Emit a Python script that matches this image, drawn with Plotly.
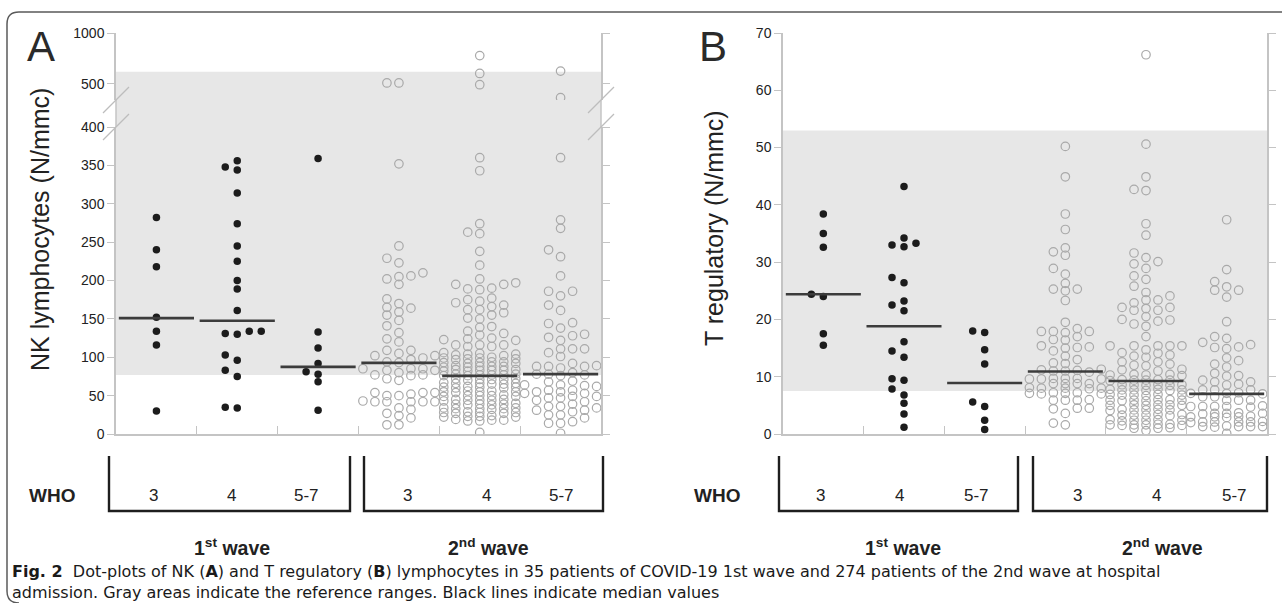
import math
import plotly.graph_objects as go

# ---------------- data ----------------
groups = ["3", "4", "5-7", "3", "4", "5-7"]
waves = ["1<sup>st</sup> wave", "2<sup>nd</sup> wave"]

# Panel A: NK lymphocytes (N/mmc)
nk_w1_who3 = [282, 240, 218, 152, 134, 116, 30]
nk_w1_who4 = [356, 344, 348, 314, 274, 245, 225, 200, 189, 161, 134, 130, 131, 134,
              103, 96, 83, 75, 35, 34]
nk_w1_who57 = [359, 133, 112, 92, 81, 78, 68, 31]
nk_w2_who3 = [505, 505, 352, 245, 229, 223, 210, 205, 202, 206, 195, 170, 164, 176, 155,
              159, 165, 148, 141, 132, 124, 120, 102, 97, 109, 105, 109, 102, 94, 99, 93,
              80, 85, 85, 83, 85, 83, 70, 76, 77, 77, 72, 43, 50, 42, 54, 42, 54, 42, 54,
              42, 50, 42, 52, 24, 34, 32, 21, 27, 12, 12]
nk_w2_who4 = [734, 575, 493, 360, 343, 274, 263, 261, 238, 220, 202, 197, 195, 195, 190,
              189, 188, 177, 175, 173, 171, 168, 166, 162, 162, 158, 155, 151, 150, 140,
              139, 134, 131, 129, 125, 124, 123, 122, 116, 116, 116, 114, 114, 102,
              104, 105, 103, 104, 106,
              99, 98, 100, 99, 97, 98,
              93, 94, 92, 93, 92, 94,
              88, 87, 89, 88, 88, 87,
              83, 82, 84, 83, 82, 83, 84,
              77, 76, 78, 77, 76, 77, 78,
              71, 72, 70, 71, 72, 71,
              66, 65, 67, 66, 66, 65,
              61, 60, 62, 61, 60, 61,
              55, 56, 54, 55, 56, 55,
              50, 49, 51, 50, 49, 50,
              44, 45, 43, 44, 45, 44,
              39, 38, 40, 39, 38, 39,
              33, 34, 32, 33, 34, 33,
              28, 27, 29, 28, 27, 28,
              23, 22, 24, 23, 22,
              18, 17, 19, 18, 17,
              2]
nk_w2_who57 = [594, 413, 360, 279, 268, 240, 231, 206, 186, 186, 180, 168, 161, 145, 144,
               138, 130, 128, 126, 122, 111, 111, 111, 106, 101, 92, 89, 88, 88, 88, 86,
               80, 78, 77, 76, 78, 69, 68, 64, 64, 63, 62, 57, 57, 55, 55, 53, 53, 49, 49,
               47, 47, 44, 42, 39, 36, 36, 34, 31, 31, 29, 25, 25, 21, 16, 14, 14, 1]
nk_medians = [151, 147.5, 87.5, 92.7, 75.7, 78]
nk_reference_range = [77, 588]
nk_ticks_low = [0, 50, 100, 150, 200, 250, 300, 350, 400]
nk_ticks_high = [500, 1000]

# Panel B: T regulatory (N/mmc)
treg_w1_who3 = [38.4, 35.0, 32.6, 24.0, 24.4, 17.5, 15.5]
treg_w1_who4 = [43.2, 34.2, 33.0, 32.7, 33.3, 26.4, 27.3, 23.2, 21.5, 22.5, 16.1, 14.5,
                13.4, 9.4, 9.65, 7.85, 6.8, 5.35, 3.5, 1.2]
treg_w1_who57 = [18.0, 17.7, 14.7, 12.2, 5.6, 4.8, 2.4, 0.8]
treg_w2_who3 = [50.2, 44.9, 38.4, 35.7, 32.5, 31.8, 31.2, 28.9, 27.9, 26.3, 25.3, 25.3,
                25.0, 23.3, 19.5, 18.4, 17.9, 17.9, 17.9, 17.7, 17.0, 16.5, 16.4, 15.2,
                15.4, 15.1, 15.0, 14.5, 13.6, 13.0, 12.4, 12.3,
                11.2, 11.0, 11.0, 10.8, 11.1, 11.3,
                9.6, 9.7, 9.6, 9.7, 9.6, 9.7,
                8.8, 8.8, 8.8, 8.8,
                8.0, 8.0, 8.0, 8.1, 7.9,
                7.1, 7.2, 7.0, 7.1, 7.2, 7.0,
                5.9, 5.9, 6.0, 5.9,
                4.5, 4.4, 4.5,
                3.6,
                1.9, 1.6]
treg_w2_who4 = [66.2, 50.6, 44.9, 42.5, 42.7, 36.7, 34.7, 31.6, 30.8, 29.7, 30.1, 28.9,
                27.6, 27.0, 25.8, 24.1, 24.7, 22.9, 22.1, 21.6, 21.6, 23.4, 23.4, 21.9,
                22.1, 19.9, 19.7, 18.8, 19.2, 20.0, 20.5, 17.0, 15.4, 15.4, 15.4, 15.4,
                15.4, 14.2, 14.1, 13.6, 14.7, 13.4, 13.8, 12.6, 12.6, 12.0, 12.2, 11.9,
                11.2, 11.0, 11.3,
                10.3, 10.4, 10.2, 10.3, 10.4,
                9.4, 9.5, 9.3, 9.4, 9.5, 9.4,
                8.55, 8.6, 8.5, 8.6, 8.5, 8.6,
                7.7, 7.8, 7.6, 7.7, 7.8, 7.7, 7.6,
                6.8, 6.9, 6.7, 6.8, 6.9, 6.8,
                5.9, 6.0, 5.8, 5.9, 6.0, 5.9, 5.8,
                5.1, 5.0, 5.1, 5.0, 5.1, 5.0,
                4.2, 4.3, 4.1, 4.2, 4.3, 4.2,
                3.3, 3.4, 3.2, 3.3, 3.4, 3.3,
                2.4, 2.5, 2.3, 2.4, 2.5, 2.4,
                1.6, 1.7, 1.5, 1.6, 1.7, 1.6, 1.5,
                1.0, 1.0, 1.1,
                0.6]
treg_w2_who57 = [37.4, 28.7, 26.6, 25.1, 23.9, 25.1, 25.7, 19.6, 15.6, 17.0, 15.1, 16.7,
                 14.9, 15.2, 16.0, 12.8, 11.7, 13.3, 12.2, 10.2, 9.1, 10.6, 8.7, 9.1, 9.4,
                 10.1, 8.55,
                 7.7, 7.7, 7.7,
                 7.1, 7.1, 7.2, 7.0,
                 6.5, 6.5,
                 5.9, 5.9, 5.9,
                 4.8, 4.8, 4.9, 4.8, 4.7, 4.8,
                 3.6, 3.6, 3.7, 3.6, 3.5,
                 3.0, 3.0, 3.1, 3.0, 2.9,
                 2.1, 2.1, 2.2, 2.1, 2.0, 2.1,
                 1.3, 1.3, 1.4, 1.3, 1.2, 1.3,
                 0.1]
treg_medians = [24.4, 18.8, 8.9, 10.9, 9.25, 7.0]
treg_reference_range = [7.5, 53]
treg_ticks = [0, 10, 20, 30, 40, 50, 60, 70]

caption_bold = "Fig. 2"
caption_1 = ("Dot-plots of NK (<b>A</b>) and T regulatory (<b>B</b>) lymphocytes in 35 patients "
             "of COVID-19 1st wave and 274 patients of the 2nd wave at hospital")
caption_2 = "admission. Gray areas indicate the reference ranges. Black lines indicate median values"

# ---------------- layout geometry (pixels) ----------------
W, H = 1282, 603
def px(x): return x / W
def py(y): return 1 - y / H

A_X0, A_X1 = 116, 601
B_X0, B_X1 = 783, 1267
Y_BOT = 434
A_LOW_TOP = 127
A_UP_BOT = 100
Y_TOP = 33

AXC = "#c4c4c4"
FONT = "Liberation Sans, Arial, sans-serif"
TXT = "#222222"
COL_STEP = 12.0  # pixels between dot columns
CAT_PX = (A_X1 - A_X0) / 6.0
ORDER = [0, -1, 1, 2, -2, 3, -3]


def swarm(vals, to_px, dmin=7.0):
    idx = sorted(range(len(vals)), key=lambda i: vals[i])
    placed = {c: [] for c in ORDER}
    offs = [0.0] * len(vals)
    for i in idx:
        p = to_px(vals[i])
        chosen, bestc, bestd = None, ORDER[0], -1.0
        for c in ORDER:
            d = min([abs(p - q) for q in placed[c]], default=1e9)
            if d >= dmin:
                chosen = c
                break
            if d > bestd:
                bestd, bestc = d, c
        if chosen is None:
            chosen = bestc
        placed[chosen].append(p)
        offs[i] = chosen * COL_STEP / CAT_PX
    return offs


fig = go.Figure()

low_px = lambda v: v * (Y_BOT - A_LOW_TOP) / 400.0
up_px = lambda v: (math.log10(v) - math.log10(400)) * (A_UP_BOT - Y_TOP) / (3 - math.log10(400))
treg_px = lambda v: v * (Y_BOT - Y_TOP) / 70.0

filled = dict(symbol="circle", size=7.5, color="#1c1c1c", line=dict(width=0))
hollow = dict(symbol="circle-open", size=8.5, color="#a9a9a9", line=dict(width=1.2, color="#a9a9a9"))

nk_sets = [nk_w1_who3, nk_w1_who4, nk_w1_who57, nk_w2_who3, nk_w2_who4, nk_w2_who57]
treg_sets = [treg_w1_who3, treg_w1_who4, treg_w1_who57, treg_w2_who3, treg_w2_who4, treg_w2_who57]

for gi, vals in enumerate(nk_sets):
    mk = filled if gi < 3 else hollow
    low = [v for v in vals if v <= 400]
    high = [v for v in vals if v > 400]
    if low:
        offs = swarm(low, low_px)
        fig.add_trace(go.Scatter(x=[gi + o for o in offs], y=low, mode="markers", marker=mk,
                                 xaxis="x", yaxis="y", showlegend=False, hoverinfo="y"))
    if high:
        offs = swarm(high, up_px)
        fig.add_trace(go.Scatter(x=[gi + o for o in offs], y=high, mode="markers", marker=mk,
                                 xaxis="x", yaxis="y2", showlegend=False, hoverinfo="y"))

for gi, vals in enumerate(treg_sets):
    mk = filled if gi < 3 else hollow
    offs = swarm(vals, treg_px)
    fig.add_trace(go.Scatter(x=[gi + o for o in offs], y=vals, mode="markers", marker=mk,
                             xaxis="x2", yaxis="y3", showlegend=False, hoverinfo="y"))

HALF = 0.465
for gi, m in enumerate(nk_medians):
    fig.add_trace(go.Scatter(x=[gi - HALF, gi + HALF], y=[m, m], mode="lines",
                             line=dict(color="#3c3c3c", width=2.6), xaxis="x", yaxis="y",
                             showlegend=False, hoverinfo="skip"))
for gi, m in enumerate(treg_medians):
    fig.add_trace(go.Scatter(x=[gi - HALF, gi + HALF], y=[m, m], mode="lines",
                             line=dict(color="#3c3c3c", width=2.6), xaxis="x2", yaxis="y3",
                             showlegend=False, hoverinfo="skip"))

common_x = dict(range=[-0.5, 5.5], showgrid=False, zeroline=False, showticklabels=False,
                tickmode="array", tickvals=[0.5, 1.5, 2.5, 3.5, 4.5], ticks="inside", ticklen=8,
                tickcolor=AXC, tickwidth=1.2, showline=True, linecolor=AXC, linewidth=1.5,
                fixedrange=True, automargin=False)
common_y = dict(showgrid=False, zeroline=False, ticks="outside", ticklen=7, tickcolor=AXC,
                tickwidth=1.2, showline=True, linecolor=AXC, linewidth=1.5, mirror="ticks",
                tickfont=dict(family=FONT, size=14, color=TXT), tickmode="array",
                fixedrange=True, automargin=False)

fig.update_layout(
    width=W, height=H, margin=dict(l=0, r=0, t=0, b=0),
    paper_bgcolor="white", plot_bgcolor="rgba(0,0,0,0)", template="none",
    showlegend=False,
    xaxis=dict(domain=[px(A_X0), px(A_X1)], anchor="y", **common_x),
    yaxis=dict(domain=[py(Y_BOT), py(A_LOW_TOP)], range=[0, 400], anchor="x",
               tickvals=nk_ticks_low, **common_y),
    yaxis2=dict(domain=[py(A_UP_BOT), py(Y_TOP)], type="log",
                range=[math.log10(400), 3], anchor="x",
                tickvals=nk_ticks_high, ticktext=[str(t) for t in nk_ticks_high], **common_y),
    xaxis2=dict(domain=[px(B_X0), px(B_X1)], anchor="y3", **common_x),
    yaxis3=dict(domain=[py(Y_BOT), py(Y_TOP)], range=[0, 70], anchor="x2",
                tickvals=treg_ticks, **common_y),
)

shapes = []
SHADE = "#e7e7e7"
shapes.append(dict(type="rect", xref="x domain", yref="y", x0=0, x1=1,
                   y0=nk_reference_range[0], y1=400, fillcolor=SHADE, line=dict(width=0), layer="below"))
shapes.append(dict(type="rect", xref="x domain", yref="paper", x0=0, x1=1,
                   y0=py(A_LOW_TOP), y1=py(A_UP_BOT), fillcolor=SHADE, line=dict(width=0), layer="below"))
shapes.append(dict(type="rect", xref="x domain", yref="y2", x0=0, x1=1,
                   y0=400, y1=nk_reference_range[1], fillcolor=SHADE, line=dict(width=0), layer="below"))
shapes.append(dict(type="rect", xref="x2 domain", yref="y3", x0=0, x1=1,
                   y0=treg_reference_range[0], y1=treg_reference_range[1], fillcolor=SHADE,
                   line=dict(width=0), layer="below"))
for xx in (A_X0, A_X1):
    shapes.append(dict(type="line", xref="paper", yref="paper", x0=px(xx), x1=px(xx),
                       y0=py(A_LOW_TOP), y1=py(A_UP_BOT), line=dict(color=AXC, width=1.5)))
    for yc in (A_UP_BOT, A_LOW_TOP):
        shapes.append(dict(type="line", xref="paper", yref="paper",
                           x0=px(xx - 13), y0=py(yc + 13), x1=px(xx + 13), y1=py(yc - 13),
                           line=dict(color="#bdbdbd", width=1.3)))

def path(points):
    return "M " + " L ".join(f"{px(x):.5f},{py(y):.5f}" for x, y in points)

BR_TOP, BR_BOT = 456, 511
for x0, x1 in [(109, 350), (364, 603), (779, 1018), (1033, 1267)]:
    shapes.append(dict(type="path", xref="paper", yref="paper",
                       path=path([(x0, BR_TOP), (x0, BR_BOT), (x1, BR_BOT), (x1, BR_TOP)]),
                       line=dict(color="#1e1e1e", width=2.4)))

frame = (f"M {px(1282):.5f},{py(12):.5f} L {px(19):.5f},{py(12):.5f} "
         f"Q {px(7):.5f},{py(12):.5f} {px(7):.5f},{py(24):.5f} "
         f"L {px(7):.5f},{py(591):.5f} Q {px(7):.5f},{py(603):.5f} {px(19):.5f},{py(603):.5f}")
shapes.append(dict(type="path", xref="paper", yref="paper", path=frame,
                   line=dict(color="#5a5a5a", width=1.5)))
fig.update_layout(shapes=shapes)

ann = []
def text(x, y, s, size, family=FONT, angle=0, xanchor="center", color=TXT):
    ann.append(dict(x=px(x), y=py(y), xref="paper", yref="paper", text=s, showarrow=False,
                    xanchor=xanchor, yanchor="middle", textangle=angle,
                    font=dict(family=family, size=size, color=color)))

text(41, 47, "A", 42, color="#2a2a2a")
text(713, 47, "B", 42, color="#2a2a2a")
text(40, 230, "NK lymphocytes (N/mmc)", 25, angle=-90)
text(714, 228, "T regulatory (N/mmc)", 25, angle=-90)

for wx, lx in [(52, [153, 231, 306, 407, 486, 561]), (717, [820, 900, 977, 1077, 1156, 1234])]:
    text(wx, 495, "<b>WHO</b>", 19)
    for x, g in zip(lx, groups):
        text(x, 495, g, 17)
for xs in [(232, 488), (903, 1162)]:
    for x, w in zip(xs, waves):
        text(x, 547, f"<b>{w}</b>", 19.5)

CAP_FONT = "DejaVu Sans, Open Sans, sans-serif"
ann.append(dict(x=px(10), y=py(581.5), xref="paper", yref="paper", showarrow=False,
                xanchor="left", yanchor="middle", align="left",
                text=f"<b>{caption_bold}</b>  {caption_1}<br>{caption_2}",
                font=dict(family=CAP_FONT, size=16, color="#1a1a1a")))
fig.update_layout(annotations=ann)

fig.write_html("out.html", config={"displayModeBar": False},
               post_script="document.body.style.margin='0';document.body.style.overflow='hidden';")
